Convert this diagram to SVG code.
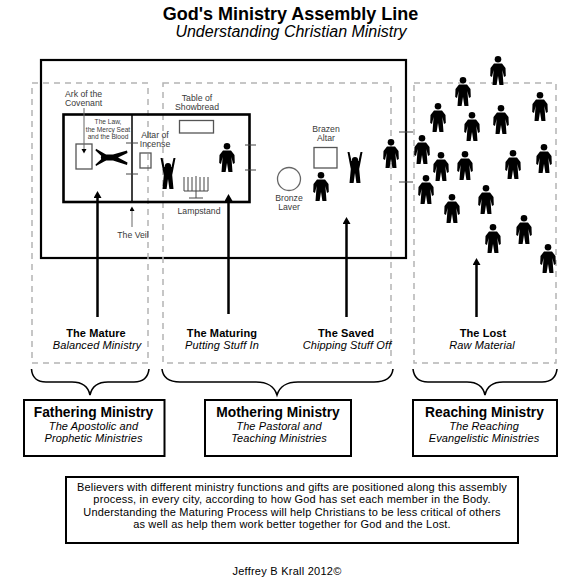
<svg xmlns="http://www.w3.org/2000/svg" xmlns:xlink="http://www.w3.org/1999/xlink" width="576" height="583" viewBox="0 0 576 583">
<style>
text{font-family:"Liberation Sans",Arial,sans-serif;fill:#000;text-anchor:middle}
.s{font-size:8.7px;fill:#3a3a3a}
.xs{font-size:6.6px;fill:#3a3a3a}
.b{font-size:11px;font-weight:bold;letter-spacing:.1px}
.i{font-size:11px;font-style:italic;letter-spacing:.1px}
.h{font-size:13.8px;font-weight:bold}
.p{font-size:11px;letter-spacing:.17px}
.wall{fill:none;stroke:#000;stroke-width:2.2}
.inner{fill:none;stroke:#000;stroke-width:2.6}
.dash{fill:none;stroke:#b4b4b4;stroke-width:1.5;stroke-dasharray:6 5}
.gr{fill:none;stroke:#555;stroke-width:1.3}
.tick{fill:none;stroke:#444;stroke-width:1}
.arrow{fill:none;stroke:#000;stroke-width:2.5;marker-end:url(#big)}
.thin{fill:none;stroke:#666;stroke-width:1;marker-end:url(#small)}
.brace{fill:none;stroke:#000;stroke-width:1.6}
.box{fill:#fff;stroke:#000;stroke-width:2}
</style>
<defs>
<marker id="big" markerUnits="userSpaceOnUse" markerWidth="9" markerHeight="9" refX="1" refY="4" orient="auto"><path d="M0 0L7 4L0 8Z" fill="#000"/></marker>
<marker id="small" markerUnits="userSpaceOnUse" markerWidth="6" markerHeight="6" refX="1" refY="2.5" orient="auto"><path d="M0 0L4.5 2.500L0 5Z" fill="#000"/></marker>
<g id="person"><circle cx="0" cy="3.200" r="3.300"/><path d="M-4 7.500H4L7.500 12L7.800 20L6 21L4.400 14L5.500 29H1.400L0 20L-1.400 29H-5.500L-4.400 14L-6 21L-7.800 20L-7.500 12Z"/></g>
<g id="raised"><circle cx="0" cy="8" r="3.100"/><path d="M-7.500 0L-5.500 0L-3.500 9H3.500L5.500 0L7.500 0L5 13L4.200 17L5.500 31H1.400L0 21L-1.400 31H-5.500L-4.200 17L-5 13Z"/></g>
</defs>
<rect width="576" height="583" fill="#fff"/>

<g id="title">
<text x="290.500" y="20" style="font-size:18px;font-weight:bold">God's Ministry Assembly Line</text>
<text x="291" y="37" style="font-size:16px;font-style:italic">Understanding Christian Ministry</text>
</g>

<g id="court">
<rect class="wall" x="41" y="60" width="365" height="198"/>
<path class="tick" d="M399 132H413M399 182H413"/>
</g>
<g id="zones">
<rect class="dash" x="32" y="83" width="116" height="280"/>
<rect class="dash" x="163" y="83" width="228" height="280"/>
<rect class="dash" x="414" y="83" width="142" height="280"/>
</g>

<g id="tabernacle">
<rect class="inner" x="63.500" y="114.500" width="186" height="87.500"/>
<path d="M132 114V202" fill="none" stroke="#000" stroke-width="1.500"/>
<path class="tick" d="M126 143H138M126 174H138M245 145H256M245 170H256"/>
</g>

<g id="ark">
<text class="s" x="65" y="97" style="text-anchor:start">Ark of the</text>
<text class="s" x="65" y="106" style="text-anchor:start">Covenant</text>
<rect class="gr" x="76" y="144" width="16" height="25"/>
<path class="thin" d="M84 108V150"/>
</g>
<g id="law">
<text class="xs" x="108" y="124">The Law,</text>
<text class="xs" x="108" y="131.500">the Mercy Seat</text>
<text class="xs" x="108" y="139">and the Blood</text>
<circle cx="104" cy="157.500" r="3.100"/>
<path d="M95.500 150.500L96 148.800L106 154.500H113L127 150.500L127.500 153L118 157.500L127.500 162.500L127 165L113 160.500H106L96 166L95.500 164.500L103 157.500Z"/>
</g>
<g id="incense">
<text class="s" x="155" y="138">Altar of</text>
<text class="s" x="155" y="147">Incense</text>
<rect class="gr" x="140" y="153" width="11" height="15"/>
</g>
<g id="showbread">
<text class="s" x="197" y="101">Table of</text>
<text class="s" x="197" y="110">Showbread</text>
<rect class="gr" x="179.500" y="120.500" width="34" height="12.500"/>
</g>
<g id="lampstand">
<path fill="none" stroke="#444" stroke-width="1" d="M184 177V191M188 177V191M192 177V191M196 176V198M200 177V191M204 177V191M208 177V191M184 191H208M189 198H203"/>
<text class="s" x="199" y="214">Lampstand</text>
</g>
<g id="veil">
<path class="thin" d="M132 227V210"/>
<text class="s" x="133" y="238">The Veil</text>
</g>
<g id="laver">
<circle cx="289" cy="179" r="11.500" fill="none" stroke="#666" stroke-width="1.300"/>
<text class="s" x="289" y="201">Bronze</text>
<text class="s" x="289" y="210">Laver</text>
</g>
<g id="altar">
<text class="s" x="326" y="132">Brazen</text>
<text class="s" x="326" y="141">Altar</text>
<rect class="gr" x="314" y="147.500" width="23" height="20.500"/>
</g>

<g id="people">
<use href="#raised" x="168" y="158"/>
<use href="#raised" x="355" y="152"/>
<use href="#person" x="227" y="143"/>
<use href="#person" x="321" y="172"/>
<use href="#person" x="391" y="139"/>
<use href="#person" x="498" y="56"/>
<use href="#person" x="463" y="77"/>
<use href="#person" x="540" y="92"/>
<use href="#person" x="438" y="103"/>
<use href="#person" x="472" y="112"/>
<use href="#person" x="501" y="105"/>
<use href="#person" x="422" y="135"/>
<use href="#person" x="441" y="152"/>
<use href="#person" x="465" y="151"/>
<use href="#person" x="513" y="150"/>
<use href="#person" x="544" y="144"/>
<use href="#person" x="426" y="175"/>
<use href="#person" x="452" y="194"/>
<use href="#person" x="486" y="185"/>
<use href="#person" x="493" y="224"/>
<use href="#person" x="524" y="215"/>
<use href="#person" x="548" y="244"/>
</g>

<g id="connectors">
<path class="arrow" d="M97.500 317V197"/>
<path class="arrow" d="M228.500 314V200"/>
<path class="arrow" d="M346.500 317V223"/>
<path class="arrow" d="M476.500 317V264"/>
<path class="brace" d="M31.500 369C32 378 38 382 46 382H72C82 382 88 386 90 395C92 386 98 382 108 382H134C142 382 148 378 149 369"/>
<path class="brace" d="M162 369C163 378 170 382 180 382H256C268 382 274 386 277 395C280 386 286 382 298 382H374C385 382 392 378 393 369"/>
<path class="brace" d="M413 369C414 378 420 382 428 382H467C477 382 483 386 485 395C487 386 493 382 503 382H542C550 382 556 378 557 369"/>
</g>

<g id="stage-mature">
<text class="b" x="96" y="337">The Mature</text>
<text class="i" x="97" y="349">Balanced Ministry</text>
</g>
<g id="stage-maturing">
<text class="b" x="222" y="337">The Maturing</text>
<text class="i" x="222" y="349">Putting Stuff In</text>
</g>
<g id="stage-saved">
<text class="b" x="346" y="337">The Saved</text>
<text class="i" x="347" y="349">Chipping Stuff Off</text>
</g>
<g id="stage-lost">
<text class="b" x="483" y="337">The Lost</text>
<text class="i" x="482" y="349">Raw Material</text>
</g>

<g id="fathering">
<rect class="box" x="24" y="400" width="140.500" height="56"/>
<text class="h" x="93.500" y="417">Fathering Ministry</text>
<text class="i" x="93.500" y="430">The Apostolic and</text>
<text class="i" x="93.500" y="442">Prophetic Ministries</text>
</g>
<g id="mothering">
<rect class="box" x="205" y="400" width="146" height="56"/>
<text class="h" x="278" y="417">Mothering Ministry</text>
<text class="i" x="279" y="430">The Pastoral and</text>
<text class="i" x="279" y="442">Teaching Ministries</text>
</g>
<g id="reaching">
<rect class="box" x="413" y="400" width="144" height="56"/>
<text class="h" x="484.500" y="417">Reaching Ministry</text>
<text class="i" x="484" y="430">The Reaching</text>
<text class="i" x="484" y="442">Evangelistic Ministries</text>
</g>

<g id="note">
<rect class="box" x="66" y="477" width="452" height="66"/>
<text class="p" x="292" y="491">Believers with different ministry functions and gifts are positioned along this assembly</text>
<text class="p" x="292" y="503">process, in every city, according to how God has set each member in the Body.</text>
<text class="p" x="292" y="516">Understanding the Maturing Process will help Christians to be less critical of others</text>
<text class="p" x="292" y="528">as well as help them work better together for God and the Lost.</text>
</g>
<g id="credit">
<text x="287" y="575" style="font-size:11px;letter-spacing:.25px">Jeffrey B Krall 2012©</text>
</g>
</svg>
